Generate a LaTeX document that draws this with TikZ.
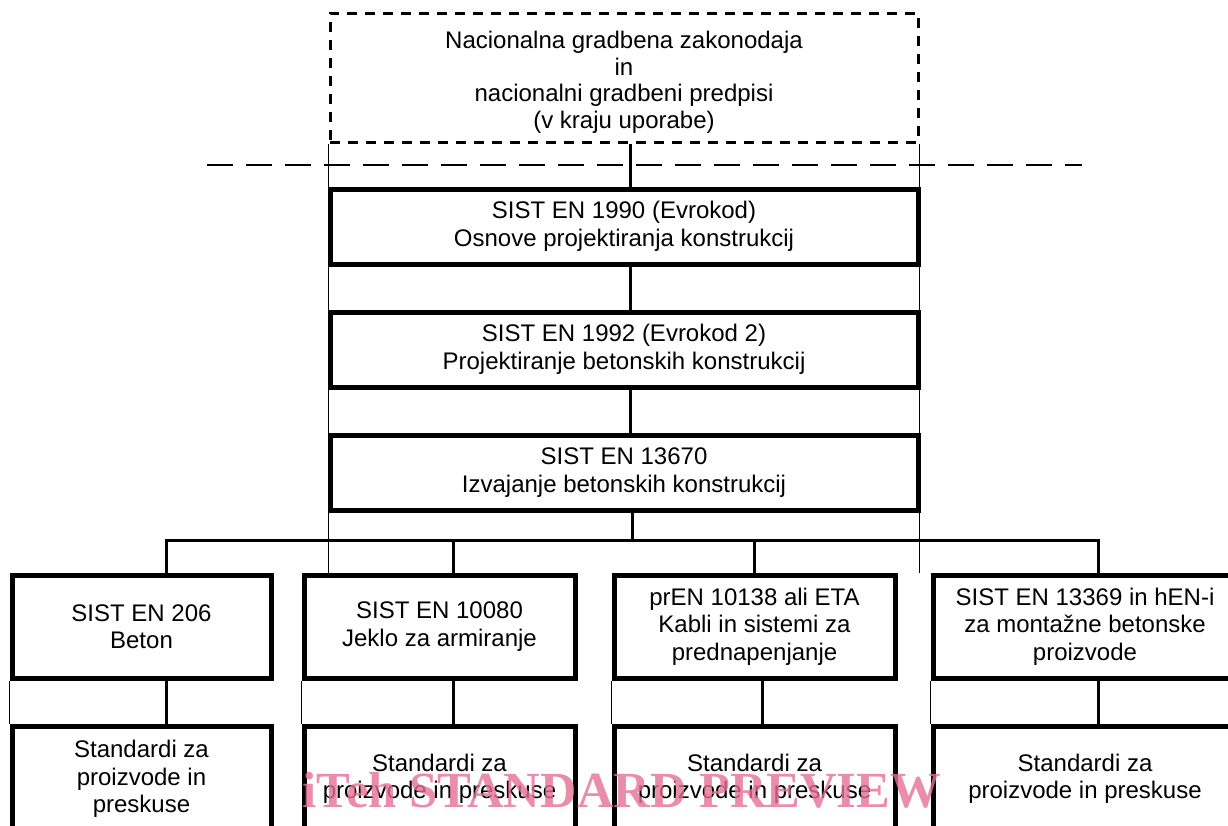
\documentclass[tikz,border=0pt]{standalone}
\usepackage{fontspec}
\setmainfont{Liberation Sans}
\newfontfamily\wmfont{Liberation Serif}
\definecolor{wmpink}{RGB}{228,112,150}
\begin{document}
\begin{tikzpicture}[x=1pt,y=-1pt,
  box/.style={draw, line width=5pt, align=center, inner sep=0pt,
    font=\fontsize{24}{27.5}\selectfont},
  dbox/.style={draw, line width=3pt, dash pattern=on 10pt off 8pt, inner sep=0pt},
  txt/.style={align=center, inner sep=0pt, font=\fontsize{24}{26.5}\selectfont},
  conn/.style={line width=3pt},
  thinl/.style={line width=1.7pt},
  longdash/.style={line width=2pt, dash pattern=on 26pt off 13pt},
  wm/.style={text=wmpink, opacity=0.8, inner sep=0pt, font=\wmfont\bfseries\fontsize{50.6}{51}\selectfont}
]
\useasboundingbox (0,0) rectangle (1228,825);

% top dashed box
\node[dbox, minimum width=588pt, minimum height=129pt] (top) at (624,77.5) {};
\node[txt] (toptext) at (624,82.5) {Nacionalna gradbena zakonodaja\\in\\nacionalni gradbeni predpisi\\(v kraju uporabe)};

% main column
\node[box, minimum width=588pt, minimum height=75pt] (b1) at (624,226.5) {SIST EN 1990 (Evrokod)\\Osnove projektiranja konstrukcij};
\node[box, minimum width=588pt, minimum height=75pt] (b2) at (624,349.5) {SIST EN 1992 (Evrokod 2)\\Projektiranje betonskih konstrukcij};
\node[box, minimum width=588pt, minimum height=75pt] (b3) at (624,472.5) {SIST EN 13670\\Izvajanje betonskih konstrukcij};

% row 1
\node[box, minimum width=259pt, minimum height=103pt] (A) at (141.5,626.5) {SIST EN 206\\Beton};
\node[box, minimum width=271pt, minimum height=103pt] (B) at (439.5,626.5) {SIST EN 10080\\Jeklo za armiranje};
\node[box, minimum width=281pt, minimum height=103pt] (C) at (754.5,626.5) {prEN 10138 ali ETA\\Kabli in sistemi za\\prednapenjanje};
\node[box, minimum width=304pt, minimum height=103pt] (D) at (1085,626.5) {SIST EN 13369 in hEN-i\\za montažne betonske\\proizvode};

% row 2
\node[box, minimum width=259pt, minimum height=106pt] (A2) at (141.5,779) {Standardi za\\proizvode in\\preskuse};
\node[box, minimum width=271pt, minimum height=106pt] (B2) at (439.5,779) {Standardi za\\proizvode in preskuse};
\node[box, minimum width=281pt, minimum height=106pt] (C2) at (754.5,779) {Standardi za\\proizvode in preskuse};
\node[box, minimum width=304pt, minimum height=106pt] (D2) at (1085,779) {Standardi za\\proizvode in preskuse};

% long dashed line
\coordinate (dl) at (207,165);
\coordinate (dr) at (1082,165);
\draw[longdash] (dl) -- (dr);

% thin side lines
\draw[thinl] (top.south west) -- (top.south west |- B.north);
\draw[thinl] (top.south east) -- (top.south east |- D.north);
\draw[thinl] (A.south west) -- (A2.north west);
\draw[thinl] (B.south west) -- (B2.north west);
\draw[thinl] (C.south west) -- (C2.north west);
\draw[thinl] (D.south west) -- (D2.north west);

% connectors
\coordinate (cx) at (630,0);
\coordinate (cx2) at (632,0);
\coordinate (dA) at (166,540);
\coordinate (dB) at (453,540);
\coordinate (dC) at (754,540);
\coordinate (dD) at (1098,540);
\coordinate (xC2) at (762,0);
\draw[conn] (top.south -| cx) -- (b1.north -| cx);
\draw[conn] (b1.south -| cx) -- (b2.north -| cx);
\draw[conn] (b2.south -| cx) -- (b3.north -| cx);
\draw[conn] (b3.south -| cx2) -- (cx2 |- dA);
\draw[conn] ([xshift=-1.5pt]dA) -- ([xshift=1.5pt]dD);
\draw[conn] (dA) -- (A.north -| dA);
\draw[conn] (dB) -- (B.north -| dB);
\draw[conn] (dC) -- (C.north -| dC);
\draw[conn] (dD) -- (D.north -| dD);
\draw[conn] (A.south -| dA) -- (A2.north -| dA);
\draw[conn] (B.south -| dB) -- (B2.north -| dB);
\draw[conn] (C.south -| xC2) -- (C2.north -| xC2);
\draw[conn] (D.south -| dD) -- (D2.north -| dD);

% watermark
\node[wm, anchor=base] (wmark) at (622,807) {iTeh STANDARD PREVIEW};
\end{tikzpicture}
\end{document}
